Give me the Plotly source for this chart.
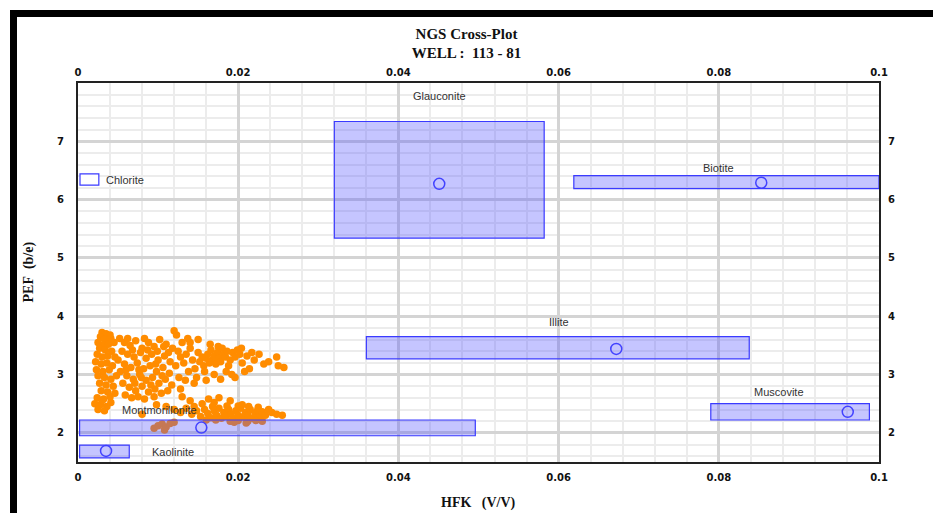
import plotly.graph_objects as go

# ---------------- data ----------------
minerals = ["Glauconite", "Biotite", "Illite", "Muscovite", "Montmorillonite", "Kaolinite"]
hfk_min = [0.0320, 0.0619, 0.0360, 0.0790, 0.0002, 0.0002]
hfk_max = [0.0582, 0.1000, 0.0838, 0.0988, 0.0496, 0.0064]
pef_min = [5.34, 6.19, 3.27, 2.22, 1.95, 1.57]
pef_max = [7.34, 6.41, 3.65, 2.50, 2.22, 1.79]
hfk_center = [0.0451, 0.0853, 0.0672, 0.0961, 0.0154, 0.0035]
pef_center = [6.27, 6.29, 3.44, 2.36, 2.09, 1.69]
label_x = [0.0451, 0.0800, 0.0600, 0.0875, 0.0102, 0.0119]
label_y = [7.78, 6.55, 3.90, 2.70, 2.39, 1.67]

well_hfk = [
    0.0030, 0.0035, 0.0040, 0.0028, 0.0033, 0.0041, 0.0025, 0.0031, 0.0038, 0.0045,
    0.0027, 0.0034, 0.0042, 0.0024, 0.0030, 0.0037, 0.0046, 0.0022, 0.0029, 0.0036,
    0.0043, 0.0023, 0.0031, 0.0039, 0.0025, 0.0033, 0.0041, 0.0048, 0.0027, 0.0035,
    0.0044, 0.0029, 0.0037, 0.0046, 0.0024, 0.0032, 0.0040, 0.0021, 0.0028, 0.0036,
    0.0025, 0.0033, 0.0041, 0.0030,
    0.0052, 0.0058, 0.0065, 0.0072, 0.0080, 0.0088, 0.0095, 0.0102, 0.0110, 0.0118,
    0.0055, 0.0062, 0.0070, 0.0078, 0.0085, 0.0092, 0.0100, 0.0108, 0.0115, 0.0050,
    0.0058, 0.0066, 0.0074, 0.0082, 0.0090, 0.0098, 0.0106, 0.0114, 0.0053, 0.0061,
    0.0069, 0.0077, 0.0085, 0.0093, 0.0101, 0.0109, 0.0117, 0.0056, 0.0064, 0.0072,
    0.0080, 0.0088, 0.0096, 0.0104, 0.0112, 0.0059, 0.0067, 0.0075, 0.0083, 0.0120,
    0.0123, 0.0125, 0.0122, 0.0126, 0.0068, 0.0076, 0.0087, 0.0097, 0.0105, 0.0113,
    0.0060, 0.0071, 0.0079, 0.0091, 0.0099, 0.0107, 0.0083, 0.0062, 0.0095,
    0.0128, 0.0132, 0.0135, 0.0138, 0.0140, 0.0143, 0.0146, 0.0148, 0.0150, 0.0152,
    0.0155, 0.0157, 0.0160, 0.0162, 0.0164, 0.0166, 0.0168, 0.0170, 0.0172, 0.0174,
    0.0176, 0.0178, 0.0180, 0.0182, 0.0184, 0.0186, 0.0188, 0.0190, 0.0193, 0.0196,
    0.0199, 0.0202, 0.0205, 0.0208, 0.0211, 0.0214, 0.0220, 0.0226, 0.0232, 0.0248,
    0.0250, 0.0140, 0.0150, 0.0165, 0.0175, 0.0158, 0.0170, 0.0185, 0.0196, 0.0134,
    0.0145, 0.0128, 0.0160, 0.0178, 0.0130, 0.0137, 0.0192, 0.0204, 0.0217, 0.0238,
    0.0257,
    0.0130, 0.0140, 0.0145, 0.0155, 0.0163, 0.0170, 0.0176, 0.0190, 0.0205,
    0.0120, 0.0128, 0.0135, 0.0142, 0.0148, 0.0153, 0.0158, 0.0162, 0.0166, 0.0170,
    0.0173, 0.0176, 0.0179, 0.0182, 0.0185, 0.0188, 0.0191, 0.0194, 0.0197, 0.0200,
    0.0203, 0.0206, 0.0209, 0.0212, 0.0215, 0.0218, 0.0221, 0.0224, 0.0227, 0.0230,
    0.0234, 0.0238, 0.0242, 0.0248, 0.0255, 0.0168, 0.0186, 0.0200, 0.0213, 0.0225,
    0.0160, 0.0172, 0.0190, 0.0200, 0.0212, 0.0222, 0.0230, 0.0110, 0.0098, 0.0080,
    0.0095, 0.0100, 0.0105, 0.0110, 0.0115, 0.0108, 0.0120, 0.0195, 0.0210,
]
well_pef = [
    3.72, 3.70, 3.68, 3.65, 3.60, 3.62, 3.55, 3.50, 3.52, 3.55,
    3.45, 3.42, 3.40, 3.35, 3.30, 3.32, 3.30, 3.22, 3.18, 3.20,
    3.15, 3.08, 3.05, 3.08, 2.98, 2.95, 2.92, 2.98, 2.85, 2.82,
    2.80, 2.72, 2.70, 2.68, 2.60, 2.58, 2.62, 2.50, 2.48, 2.45,
    2.40, 2.38, 2.52, 2.55,
    3.62, 3.55, 3.50, 3.58, 3.45, 3.55, 3.48, 3.60, 3.52, 3.45,
    3.40, 3.35, 3.30, 3.38, 3.28, 3.35, 3.25, 3.32, 3.22, 3.25,
    3.18, 3.12, 3.20, 3.10, 3.15, 3.05, 3.12, 3.02, 3.05, 2.98,
    2.92, 3.00, 2.90, 2.95, 2.85, 2.92, 2.82, 2.85, 2.78, 2.72,
    2.80, 2.70, 2.75, 2.68, 2.72, 2.65, 2.60, 2.62, 2.58, 3.75,
    3.68, 3.40, 3.15, 2.95, 3.42, 3.08, 3.42, 3.18, 2.98, 3.38,
    3.08, 2.85, 2.95, 2.82, 3.40, 3.48, 3.62, 3.62, 2.62,
    3.30, 3.20, 3.35, 3.05, 3.45, 3.25, 3.10, 2.95, 3.38, 3.22,
    3.30, 3.15, 3.28, 3.35, 3.20, 3.42, 3.25, 3.32, 3.18, 3.38,
    3.28, 3.22, 3.45, 3.35, 3.30, 3.40, 3.15, 3.25, 3.38, 3.30,
    3.42, 3.35, 3.20, 3.05, 3.32, 3.10, 3.25, 3.35, 3.18, 3.30,
    3.15, 3.55, 3.60, 3.52, 3.48, 3.05, 3.00, 3.05, 2.95, 2.90,
    2.85, 2.75, 2.90, 2.92, 3.55, 3.62, 3.00, 3.45, 3.38, 3.22,
    3.12,
    2.62, 2.55, 2.45, 2.50, 2.58, 2.52, 2.60, 2.55, 2.48,
    2.40, 2.35, 2.42, 2.32, 2.38, 2.28, 2.40, 2.33, 2.26, 2.38,
    2.30, 2.42, 2.25, 2.35, 2.28, 2.40, 2.32, 2.25, 2.38, 2.30,
    2.42, 2.27, 2.35, 2.30, 2.40, 2.25, 2.33, 2.38, 2.28, 2.36,
    2.30, 2.40, 2.35, 2.32, 2.30, 2.45, 2.46, 2.46, 2.45, 2.44,
    2.22, 2.22, 2.20, 2.21, 2.20, 2.21, 2.20, 2.45, 2.48, 2.32,
    2.08, 2.12, 2.15, 2.10, 2.16, 2.05, 2.18, 2.18, 2.17,
]

x_ticks = [0, 0.02, 0.04, 0.06, 0.08, 0.1]
y_ticks = [2, 3, 4, 5, 6, 7]

# ---------------- figure ----------------
fig = go.Figure()

fig.add_trace(go.Scatter(
    x=well_hfk, y=well_pef, mode="markers",
    marker=dict(color="#ff8c00", size=7.5, line=dict(width=0)),
    showlegend=False, hoverinfo="x+y",
))

fig.add_trace(go.Scatter(
    x=hfk_center, y=pef_center, mode="markers",
    marker=dict(symbol="circle-open", size=11, color="#3c3cff", line=dict(width=1.5)),
    showlegend=False, text=minerals,
))

# dummy trace for the mirrored (top / right) axes
fig.add_trace(go.Scatter(x=[0.05], y=[5], xaxis="x2", yaxis="y2",
                         mode="markers", marker=dict(opacity=0), showlegend=False,
                         hoverinfo="skip"))

shapes = []
for x0, x1, y0, y1 in zip(hfk_min, hfk_max, pef_min, pef_max):
    shapes.append(dict(type="rect", xref="x", yref="y", x0=x0, x1=x1, y0=y0, y1=y1,
                       fillcolor="rgba(80,80,255,0.33)",
                       line=dict(color="#3a3aff", width=1.2), layer="above"))

# Chlorite legend-like box
shapes.append(dict(type="rect", xref="x", yref="y", x0=0.00025, x1=0.0026, y0=6.25, y1=6.44,
                   fillcolor="white", line=dict(color="#3a3aff", width=1.2), layer="above"))

# outer black frame (window edge)
def px_x(p):
    return (p - 78) / 801.0

def px_y(p):
    return (462 - p) / 379.0

shapes.append(dict(type="rect", xref="paper", yref="paper",
                   x0=px_x(10), x1=px_x(17), y0=px_y(513), y1=px_y(10),
                   fillcolor="black", line=dict(width=0), layer="above"))
shapes.append(dict(type="rect", xref="paper", yref="paper",
                   x0=px_x(10), x1=px_x(933), y0=px_y(17), y1=px_y(10),
                   fillcolor="black", line=dict(width=0), layer="above"))

annotations = []
for name, lx, ly in zip(minerals, label_x, label_y):
    annotations.append(dict(x=lx, y=ly, xref="x", yref="y", text=name, showarrow=False,
                            font=dict(family="Liberation Sans, Arial", size=11, color="#333333")))
annotations.append(dict(x=0.0033, y=6.345, xref="x", yref="y", text="Chlorite", showarrow=False,
                        xanchor="left",
                        font=dict(family="Liberation Sans, Arial", size=11, color="#333333")))

# axis titles
annotations.append(dict(x=0.5, y=px_y(503), xref="paper", yref="paper", yanchor="middle",
                        text="<b>HFK\u00a0\u00a0\u00a0(V/V)</b>", showarrow=False,
                        font=dict(family="Liberation Serif, Times New Roman", size=14, color="#111")))
annotations.append(dict(x=px_x(28), y=0.5, xref="paper", yref="paper", xanchor="center",
                        text="<b>PEF\u00a0\u00a0(b/e)</b>", showarrow=False, textangle=-90,
                        font=dict(family="Liberation Serif, Times New Roman", size=14, color="#111")))

tickfont = dict(family="DejaVu Sans", size=10, color="#111", weight="bold")

axis_common = dict(showline=True, linecolor="#222", linewidth=2, zeroline=False,
                   tickfont=tickfont, ticks="")

fig.update_layout(
    width=933, height=513,
    margin=dict(l=78, r=54, t=83, b=51),
    paper_bgcolor="white", plot_bgcolor="white",
    title=dict(text="<b>NGS Cross-Plot<br>WELL :  113 - 81</b>", x=0.5, xref="container",
               xanchor="center", y=1 - 38.5 / 513, yanchor="middle",
               font=dict(family="Liberation Serif, Times New Roman", size=15, color="#111")),
    xaxis=dict(range=[0, 0.1], tickvals=x_ticks, ticktext=[str(v) for v in x_ticks],
               showgrid=True, gridcolor="#d4d4d4", gridwidth=3,
               minor=dict(dtick=0.004, tick0=0, showgrid=True, gridcolor="#ececec", gridwidth=2),
               mirror=True, ticklabelstandoff=5, **axis_common),
    yaxis=dict(range=[1.5, 8], tickvals=y_ticks,
               showgrid=True, gridcolor="#d4d4d4", gridwidth=3,
               minor=dict(dtick=0.2, tick0=0, showgrid=True, gridcolor="#ececec", gridwidth=2),
               mirror=True, ticklabelstandoff=10, **axis_common),
    xaxis2=dict(range=[0, 0.1], tickvals=x_ticks, ticktext=[str(v) for v in x_ticks],
                overlaying="x", side="top", anchor="y2", showgrid=False,
                ticklabelstandoff=1, **axis_common),
    yaxis2=dict(range=[1.5, 8], tickvals=y_ticks, overlaying="y", side="right",
                anchor="x2", showgrid=False, ticklabelstandoff=5, **axis_common),
    shapes=shapes,
    annotations=annotations,
    showlegend=False,
)

fig.write_html("out.html")
